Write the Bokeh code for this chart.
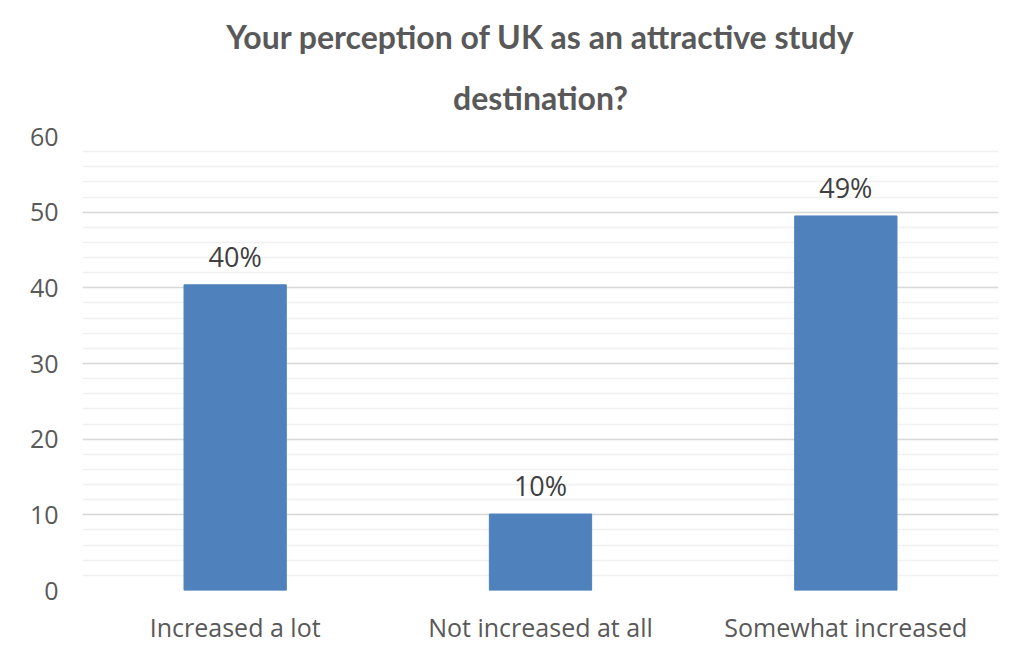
from bokeh.plotting import figure
from bokeh.models import Title, Range1d, FactorRange, ColumnDataSource, SingleIntervalTicker
from bokeh.core.properties import value
from bokeh.embed import file_html
from bokeh.resources import INLINE

categories = ["Increased a lot", "Not increased at all", "Somewhat increased"]
values = [40.4, 10.1, 49.5]
labels = ["40%", "10%", "49%"]
title_lines = ["Your perception of UK as an attractive study", "destination?"]

src = ColumnDataSource(dict(cat=categories, val=values, lab=labels))

p = figure(x_range=FactorRange(*categories, range_padding=0), y_range=Range1d(0, 60),
           width=1008, height=648, output_backend="svg", toolbar_location=None,
           min_border_left=82, min_border_right=10, min_border_top=136, min_border_bottom=58)
p.title = None
p.outline_line_color = None

standoffs = [0, 40]
for t, s in reversed(list(zip(title_lines, standoffs))):
    p.add_layout(Title(text=t, align="center", text_font="Lato",
                       text_font_style="bold", text_font_size="32px", text_color="#595959",
                       text_line_height=0.8, standoff=s, offset=-21), "above")

p.vbar(x="cat", top="val", width=0.335, source=src, fill_color="#4f81bd", line_color="#4f81bd")
p.text(x="cat", y="val", text="lab", source=src, text_align="center", text_baseline="bottom",
       y_offset=-10, text_font=value("Open Sans"), text_font_size="27px", text_color="#404040")

p.yaxis.ticker = SingleIntervalTicker(interval=10, num_minor_ticks=5)
p.yaxis.axis_line_color = None
p.yaxis.major_tick_line_color = None
p.yaxis.minor_tick_line_color = None
p.yaxis.major_label_text_font = "Open Sans"
p.yaxis.major_label_text_font_size = "25px"
p.yaxis.major_label_text_color = "#595959"
p.yaxis.major_label_standoff = 18

p.xaxis.axis_line_color = None
p.xaxis.major_tick_line_color = None
p.xaxis.minor_tick_line_color = None
p.xaxis.major_label_text_font = "Open Sans"
p.xaxis.major_label_text_font_size = "25px"
p.xaxis.major_label_text_color = "#595959"
p.xaxis.major_label_standoff = 13

p.xgrid.grid_line_color = None
p.ygrid.grid_line_color = "#d9d9d9"
p.ygrid.grid_line_width = 1.5
p.ygrid.minor_grid_line_color = "#f0f0f0"
p.ygrid.minor_grid_line_width = 1.5

open("out.html", "w").write(file_html(p, INLINE))
